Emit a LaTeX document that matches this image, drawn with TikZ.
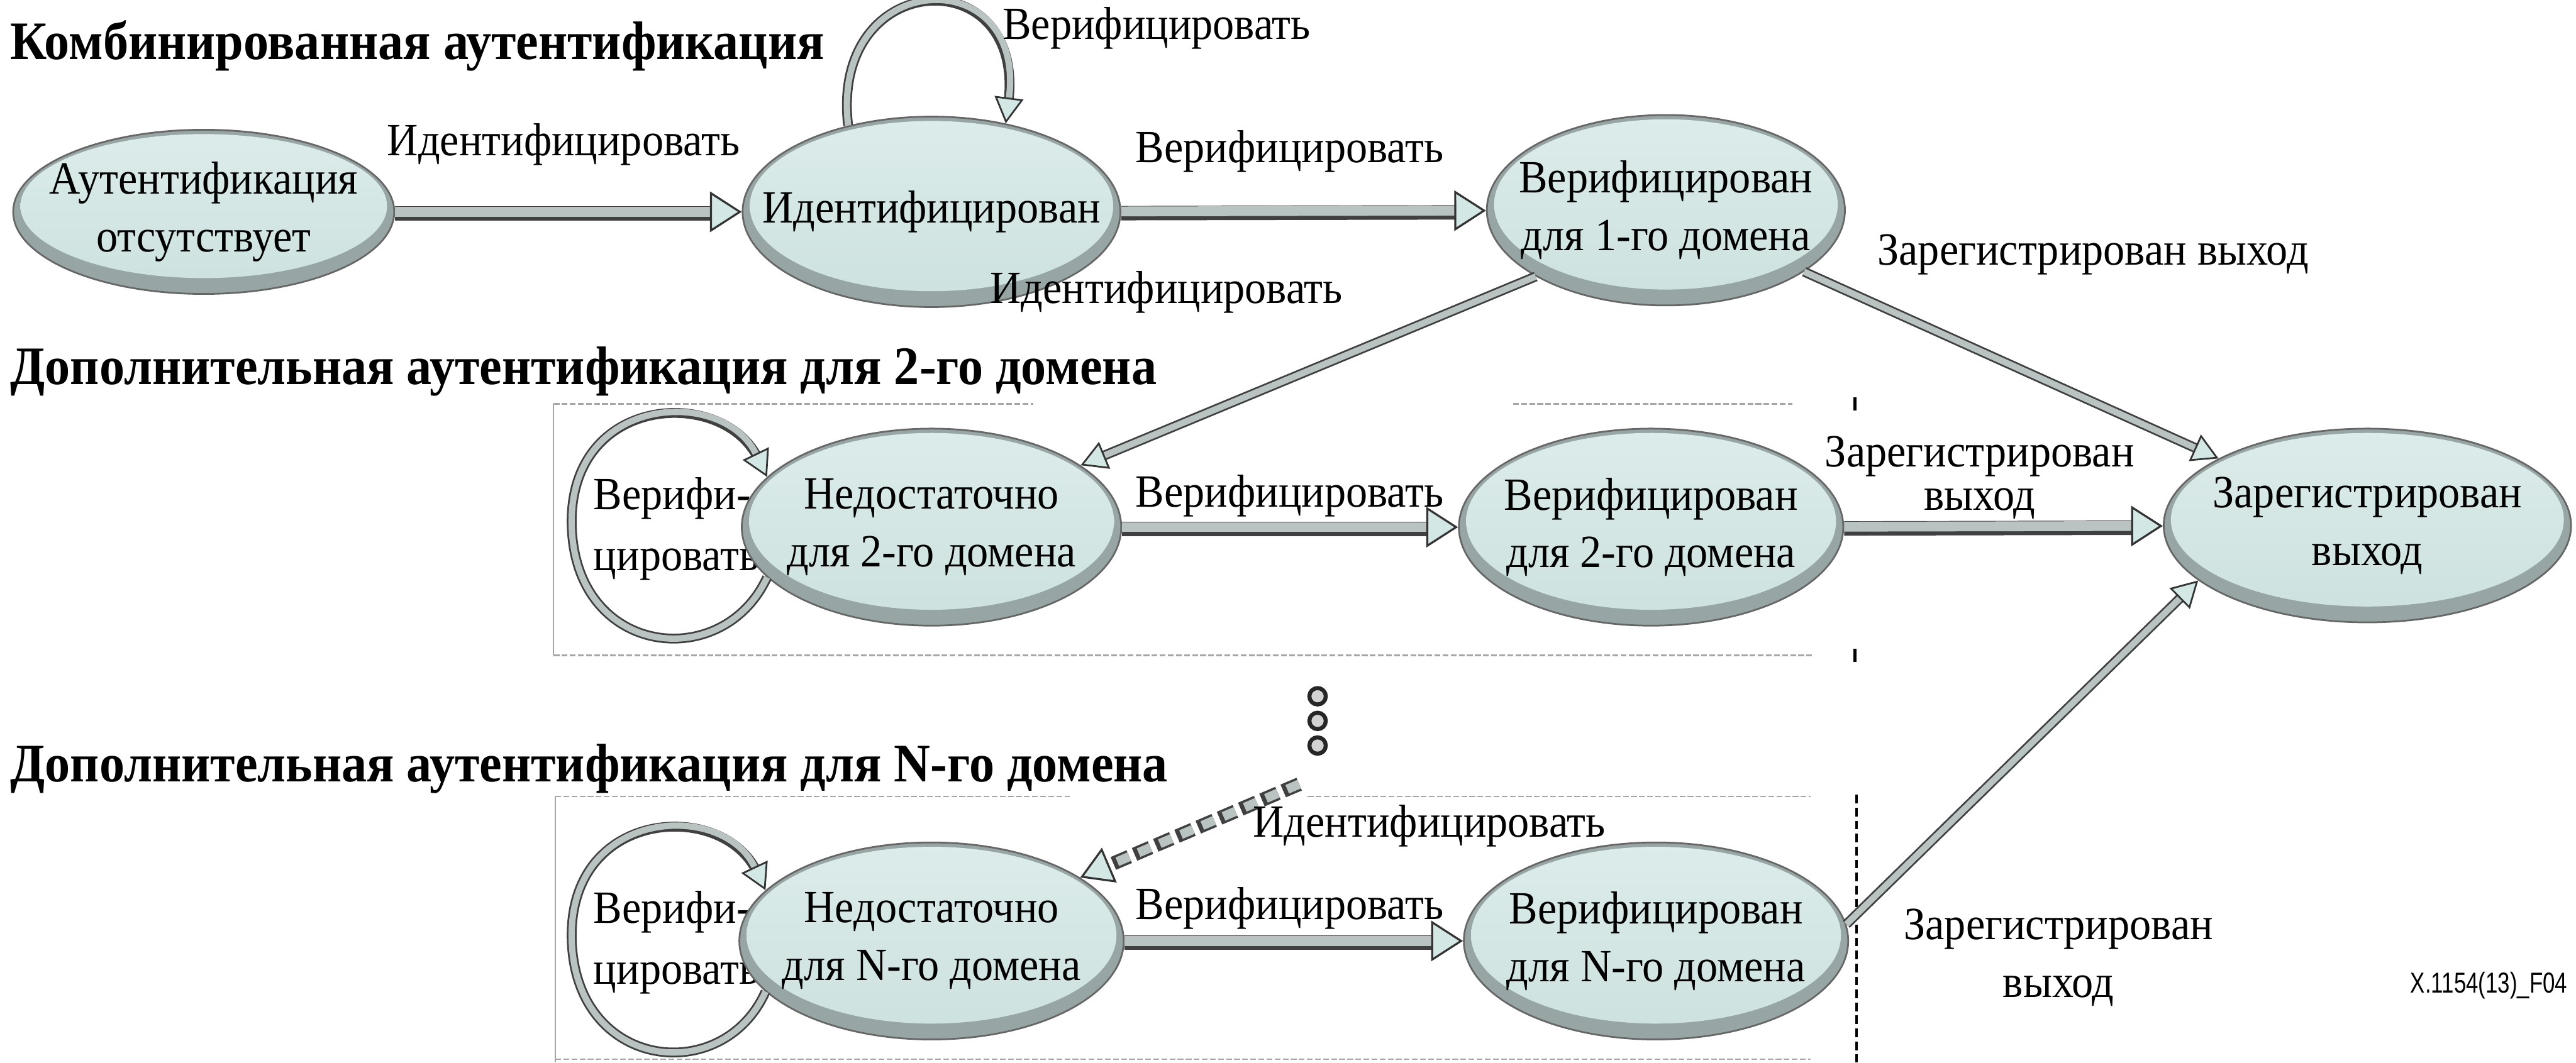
\documentclass[tikz,border=0pt]{standalone}
\usepackage{fontspec}
\setmainfont{Liberation Serif}[FakeStretch=0.93]
\newfontfamily\figsans{Liberation Sans}[FakeStretch=0.76]
\usetikzlibrary{arrows.meta,shapes.geometric,calc}
\definecolor{ellfill}{HTML}{CCE1DF}
\definecolor{ellhi}{HTML}{DCECEA}
\definecolor{rimgray}{HTML}{97A6A5}
\definecolor{shaftgray}{HTML}{B8C3C2}
\definecolor{headfill}{HTML}{D3E7E5}
\begin{document}
\begin{tikzpicture}[x=0.02cm,y=-0.02cm,
  st/.style={ellipse, draw=black!60, line width=0.6pt, fill=rimgray, inner sep=0pt,
    path picture={\shade[top color=ellhi, bottom color=ellfill]
      let \p1=($(path picture bounding box.north east)-(path picture bounding box.center)$) in
      ($(path picture bounding box.center)+(0pt,2pt)$) ellipse [x radius=\x1-2.5pt, y radius=\y1-3.5pt];}},
  txt/.style={font=\fontsize{16}{20}\selectfont, align=center, inner sep=0pt},
  ttl/.style={font=\bfseries\fontsize{18.8}{22}\selectfont, inner sep=0pt, anchor=west},
  bigflow/.style={draw=shaftgray, line width=3.4pt,
    preaction={draw=black!75, line width=5pt, -, shorten >=9pt, transform canvas={yshift=-0.6pt}},
    -{Triangle[length=11pt, width=14pt, fill=headfill, color=black!80, line width=0.7pt]}},
  thinflow/.style={draw=shaftgray, line width=2.2pt,
    preaction={draw=black!75, line width=3.4pt, -, shorten >=7pt},
    -{Triangle[length=9pt, width=10pt, fill=headfill, color=black!80, line width=0.6pt]}},
  dashflow/.style={draw=shaftgray, line width=3.2pt, dash pattern=on 4.5pt off 3.5pt, dash phase=7.25pt,
    preaction={draw=black!75, line width=4.8pt, dash pattern=on 6pt off 2pt, -, shorten >=9pt},
    -{Triangle[length=11pt, width=13pt, fill=headfill, color=black!80, line width=0.7pt]}},
  boxline/.style={draw=gray!70, line width=0.5pt},
  boxdash/.style={draw=gray!70, line width=0.6pt, dash pattern=on 2pt off 0.8pt},
  dotc/.style={circle, draw=black!85, line width=1.4pt, fill=gray!35, minimum size=0.2cm, inner sep=0pt}
]
\useasboundingbox[fill=white] (0,0) rectangle (1568,647);

% titles
\node[ttl] (t1) at (6,28) {Комбинированная аутентификация};
\node[ttl] (t2) at (6,226) {Дополнительная аутентификация для 2-го домена};
\node[ttl] (t3) at (6,468) {Дополнительная аутентификация для N-го домена};

% frames
\draw[boxline] (337,246) -- (337,399);
\draw[boxdash] (337,246) -- (629,246);
\draw[boxdash] (921,246) -- (1091,246);
\draw[boxdash] (337,399) -- (1104,399);
\draw[black, line width=1.2pt] (1129,242) -- (1129,250);
\draw[black, line width=1.2pt] (1129,395) -- (1129,403);
\draw[boxline] (338,485) -- (338,647);
\draw[boxdash] (338,485) -- (651,485);
\draw[boxdash] (796,485) -- (1102,485);
\draw[boxdash] (338,645) -- (1102,645);
\draw[black, line width=0.8pt, dash pattern=on 3pt off 1.5pt] (1130,484) -- (1130,647);

% loop labels (behind the states)
\node[txt, align=left, anchor=west, font=\fontsize{16}{21}\selectfont] (ld) at (361,322) {Верифи-\\цировать};
\node[txt, align=left, anchor=west, font=\fontsize{16}{21}\selectfont] (lg) at (361,574) {Верифи-\\цировать};

% states
\node[st, minimum width=4.64cm, minimum height=2.0cm, label={[txt]center:{Аутентификация\\отсутствует}}] (A) at (124,129) {};
\node[st, minimum width=4.6cm, minimum height=2.32cm, label={[txt]center:{Идентифицирован}}] (B) at (567,129) {};
\node[st, minimum width=4.36cm, minimum height=2.32cm, label={[txt]center:{Верифицирован\\для 1-го домена}}] (C) at (1014,128) {};
\node[st, minimum width=4.62cm, minimum height=2.4cm, label={[txt]center:{Недостаточно\\для 2-го домена}}] (D) at (567,321) {};
\node[st, minimum width=4.68cm, minimum height=2.4cm, label={[txt]center:{Верифицирован\\для 2-го домена}}] (E) at (1005,321) {};
\node[st, minimum width=4.96cm, minimum height=2.36cm, label={[txt]center:{Зарегистрирован\\выход}}] (F) at (1441,320) {};
\node[st, minimum width=4.68cm, minimum height=2.4cm, label={[txt]center:{Недостаточно\\для N-го домена}}] (G) at (567,573) {};
\node[st, minimum width=4.68cm, minimum height=2.4cm, label={[txt]center:{Верифицирован\\для N-го домена}}] (H) at (1008,573) {};

% dots
\node[dotc] (dot1) at (802,424) {};
\node[dotc] (dot2) at (802,439) {};
\node[dotc] (dot3) at (802,454) {};
\coordinate (nstart) at (792,477);

% transitions
\draw[bigflow] (A) -- (B);
\draw[bigflow] (B) -- (C);
\draw[bigflow] (D) -- (E);
\draw[bigflow] (E) -- (F);
\draw[bigflow] (G) -- (H);
\draw[thinflow] (C.207) -- (D);
\draw[thinflow] (C.336) -- (F);
\draw[thinflow] (H.5) -- (F.198);
\draw[thinflow] (B.134) .. controls (505,-20) and (625,-25) .. (B.50);
\draw[thinflow] (D.197) .. controls (440,410) and (350,400) .. (348,320) .. controls (346,240) and (440,235) .. (D.163);
\draw[thinflow] (G.197) .. controls (440,662) and (350,652) .. (348,572) .. controls (346,492) and (440,487) .. (G.163);
\draw[dashflow] (nstart) -- (G);

% transition labels
\node[txt] (l1) at (343,88) {Идентифицировать};
\node[txt] (l2) at (704,17) {Верифицировать};
\node[txt] (l3) at (785,92) {Верифицировать};
\node[txt] (l4) at (710,178) {Идентифицировать};
\node[txt] (l5) at (1274,155) {Зарегистрирован выход};
\node[txt] (l6) at (785,302) {Верифицировать};
\node[txt, font=\fontsize{16}{15}\selectfont] (l7) at (1205,291) {Зарегистрирован\\выход};
\node[txt] (l8) at (870,503) {Идентифицировать};
\node[txt] (l9) at (785,553) {Верифицировать};
\node[txt] (l10) at (1253,583) {Зарегистрирован\\выход};
\node[font=\figsans\fontsize{10}{11}\selectfont, inner sep=0pt] (fig) at (1515,600) {X.1154(13)\_F04};
\end{tikzpicture}
\end{document}
